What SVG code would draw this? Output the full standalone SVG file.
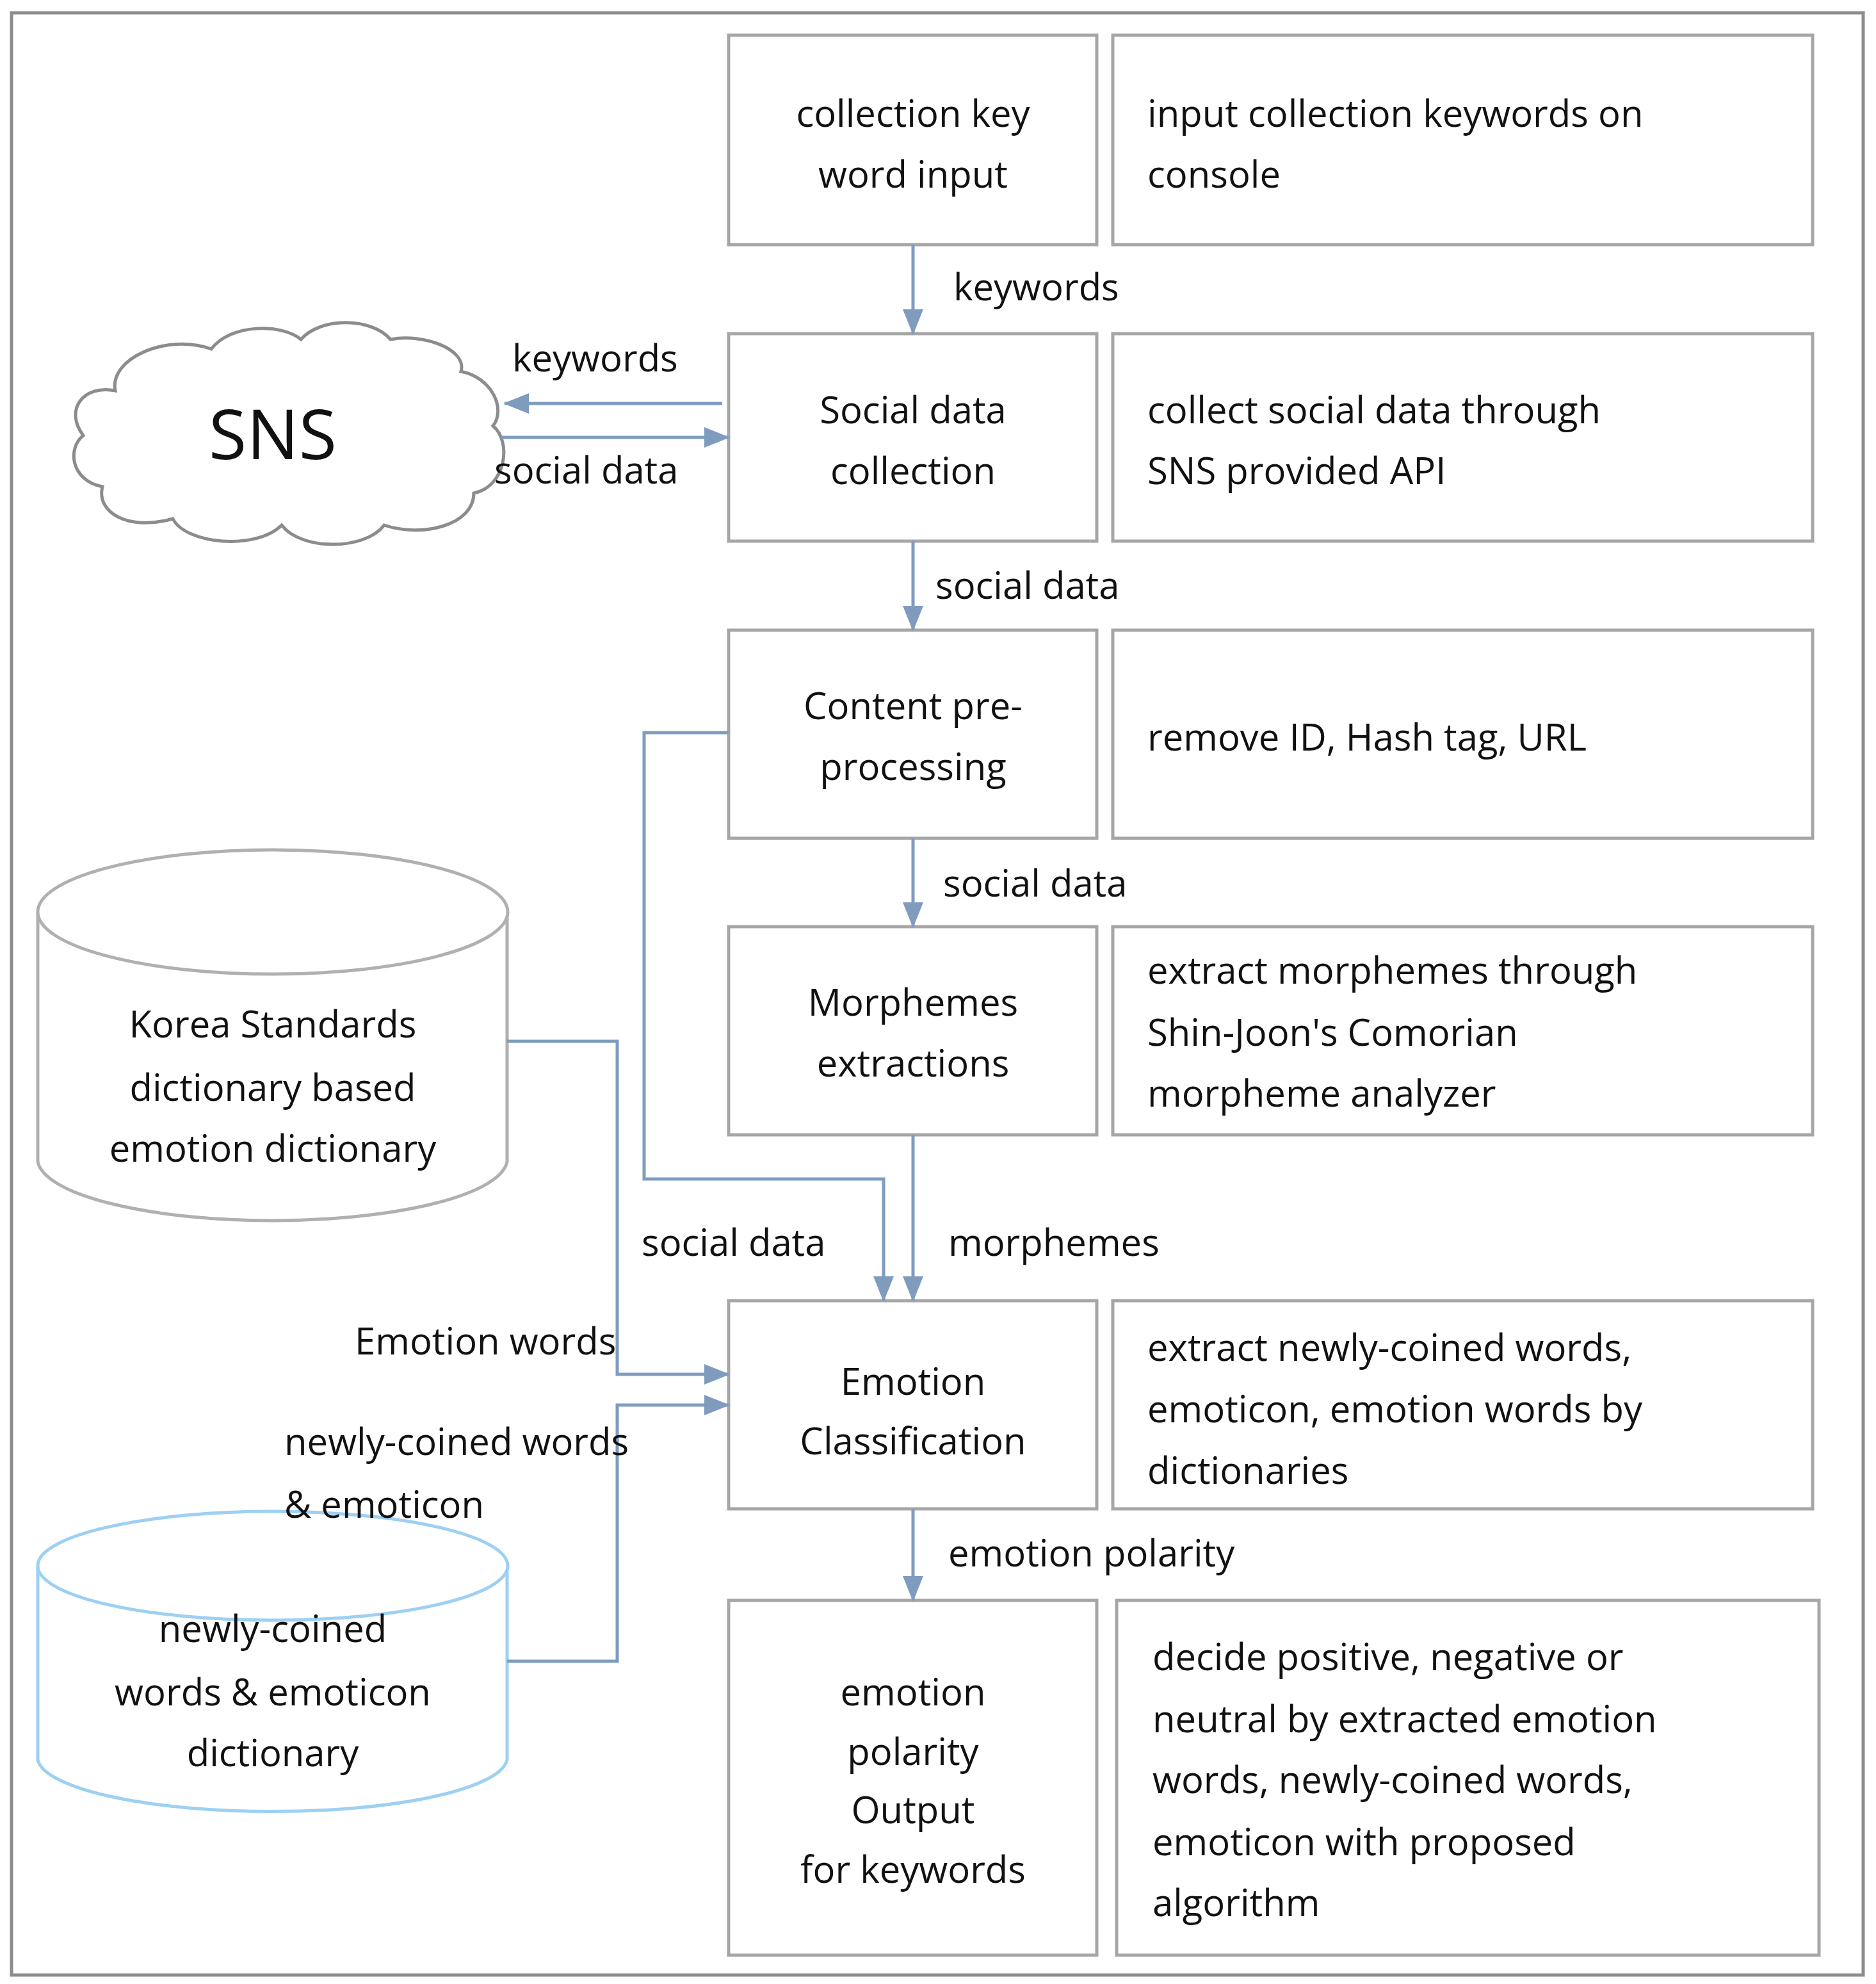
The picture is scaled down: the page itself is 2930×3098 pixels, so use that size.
<svg xmlns="http://www.w3.org/2000/svg" width="2930" height="3098" viewBox="0 0 2930 3098">
<style>
.b{fill:#fff;stroke:#a6a6a6;stroke-width:5}
.t{font-family:"Open Sans","Liberation Sans",sans-serif;font-size:58px;fill:#111}
.c{text-anchor:middle}
.l{fill:none;stroke:#7f9cbf;stroke-width:5}
</style>
<defs><marker id="a" markerWidth="10" markerHeight="10" refX="9" refY="5" orient="auto" markerUnits="userSpaceOnUse" viewBox="0 0 10 10"><path d="M0,0 L10,5 L0,10z" fill="#7f9cbf"/></marker>
<marker id="ah" markerWidth="40" markerHeight="40" refX="38" refY="20" orient="auto" markerUnits="userSpaceOnUse"><path d="M0,4 L40,20 L0,36z" fill="#7f9cbf"/></marker></defs>
<rect x="0" y="0" width="2930" height="3098" fill="#fff"/>
<rect x="18" y="20" width="2892" height="3064" fill="none" stroke="#8c8c8c" stroke-width="5"/>
<g id="n1"><rect class="b" x="1138" y="55" width="575" height="327"/><text class="t c" x="1426" y="198">collection key</text><text class="t c" x="1426" y="293">word input</text></g>
<g id="d1"><rect class="b" x="1738" y="55" width="1093" height="327"/><text class="t" x="1792" y="198">input collection keywords on</text><text class="t" x="1792" y="293">console</text></g>
<g id="n2"><rect class="b" x="1138" y="521" width="575" height="324"/><text class="t c" x="1426" y="661">Social data</text><text class="t c" x="1426" y="756">collection</text></g>
<g id="d2"><rect class="b" x="1738" y="521" width="1093" height="324"/><text class="t" x="1792" y="661">collect social data through</text><text class="t" x="1792" y="756">SNS provided API</text></g>
<g id="n3"><rect class="b" x="1138" y="984" width="575" height="325"/><text class="t c" x="1426" y="1123">Content pre-</text><text class="t c" x="1426" y="1218">processing</text></g>
<g id="d3"><rect class="b" x="1738" y="984" width="1093" height="325"/><text class="t" x="1792" y="1172">remove ID, Hash tag, URL</text></g>
<g id="n4"><rect class="b" x="1138" y="1447" width="575" height="325"/><text class="t c" x="1426" y="1586">Morphemes</text><text class="t c" x="1426" y="1681">extractions</text></g>
<g id="d4"><rect class="b" x="1738" y="1447" width="1093" height="325"/><text class="t" x="1792" y="1536">extract morphemes through</text><text class="t" x="1792" y="1633">Shin-Joon's Comorian</text><text class="t" x="1792" y="1728">morpheme analyzer</text></g>
<g id="n5"><rect class="b" x="1138" y="2031" width="575" height="325"/><text class="t c" x="1426" y="2178">Emotion</text><text class="t c" x="1426" y="2271">Classification</text></g>
<g id="d5"><rect class="b" x="1738" y="2031" width="1093" height="325"/><text class="t" x="1792" y="2125">extract newly-coined words,</text><text class="t" x="1792" y="2221">emoticon, emotion words by</text><text class="t" x="1792" y="2317">dictionaries</text></g>
<g id="n6"><rect class="b" x="1138" y="2499" width="575" height="554"/><text class="t c" x="1426" y="2663">emotion</text><text class="t c" x="1426" y="2756">polarity</text><text class="t c" x="1426" y="2847">Output</text><text class="t c" x="1426" y="2940">for keywords</text></g>
<g id="d6"><rect class="b" x="1744" y="2499" width="1097" height="554"/><text class="t" x="1800" y="2608">decide positive, negative or</text><text class="t" x="1800" y="2705">neutral by extracted emotion</text><text class="t" x="1800" y="2800">words, newly-coined words,</text><text class="t" x="1800" y="2897">emoticon with proposed</text><text class="t" x="1800" y="2992">algorithm</text></g>
<g id="sns"><path d="M180,610 C170,560 260,520 330,545 C360,505 440,505 470,530 C500,495 580,495 610,530 C660,520 730,545 720,580 C770,590 790,640 770,665 C800,690 790,760 740,770 C740,820 660,840 600,820 C570,860 470,860 440,820 C400,860 290,850 270,810 C200,830 150,800 160,760 C110,750 105,700 130,680 C100,640 130,600 180,610 Z" fill="#fff" stroke="#8c8c8c" stroke-width="5"/><text x="426" y="717" font-family="'Open Sans','Liberation Sans',sans-serif" font-size="108" text-anchor="middle" fill="#111">SNS</text></g>
<g id="dict1"><path d="M59,1424 L59,1814 A367,97 0 0 0 792,1814 L792,1424" fill="#fff" stroke="#b0b0b0" stroke-width="5"/><ellipse cx="426" cy="1424" rx="367" ry="97" fill="#fff" stroke="#b0b0b0" stroke-width="5"/><text class="t c" x="426" y="1620">Korea Standards</text><text class="t c" x="426" y="1719">dictionary based</text><text class="t c" x="426" y="1814">emotion dictionary</text></g>
<g id="dict2"><path d="M59,2445 L59,2748 A367,85 0 0 0 792,2748 L792,2445" fill="#fff" stroke="#9dd0f2" stroke-width="5"/><ellipse cx="426" cy="2445" rx="367" ry="85" fill="#fff" stroke="#9dd0f2" stroke-width="5"/><text class="t c" x="426" y="2564">newly-coined</text><text class="t c" x="426" y="2663">words &amp; emoticon</text><text class="t c" x="426" y="2758">dictionary</text></g>
<g id="connectors">
<path class="l" d="M1426,382 V521" marker-end="url(#ah)"/>
<path class="l" d="M1128,630 H788" marker-end="url(#ah)"/>
<path class="l" d="M782,683 H1138" marker-end="url(#ah)"/>
<path class="l" d="M1426,845 V984" marker-end="url(#ah)"/>
<path class="l" d="M1426,1309 V1447" marker-end="url(#ah)"/>
<path class="l" d="M1138,1144 H1006 V1841 H1380 V2031" marker-end="url(#ah)"/>
<path class="l" d="M1426,1772 V2031" marker-end="url(#ah)"/>
<path class="l" d="M792,1626 H964 V2146 H1138" marker-end="url(#ah)"/>
<path class="l" d="M792,2594 H964 V2194 H1138" marker-end="url(#ah)"/>
<path class="l" d="M1426,2356 V2499" marker-end="url(#ah)"/>
</g>
<g id="labels">
<text class="t" x="1489" y="469">keywords</text>
<text class="t" x="800" y="580">keywords</text>
<text class="t" x="772" y="755">social data</text>
<text class="t" x="1461" y="935">social data</text>
<text class="t" x="1473" y="1400">social data</text>
<text class="t" x="1002" y="1961">social data</text>
<text class="t" x="1481" y="1961">morphemes</text>
<text class="t" x="554" y="2115">Emotion words</text>
<text class="t" x="444" y="2272">newly-coined words</text>
<text class="t" x="444" y="2370">&amp; emoticon</text>
<text class="t" x="1481" y="2446">emotion polarity</text>
</g>
</svg>
